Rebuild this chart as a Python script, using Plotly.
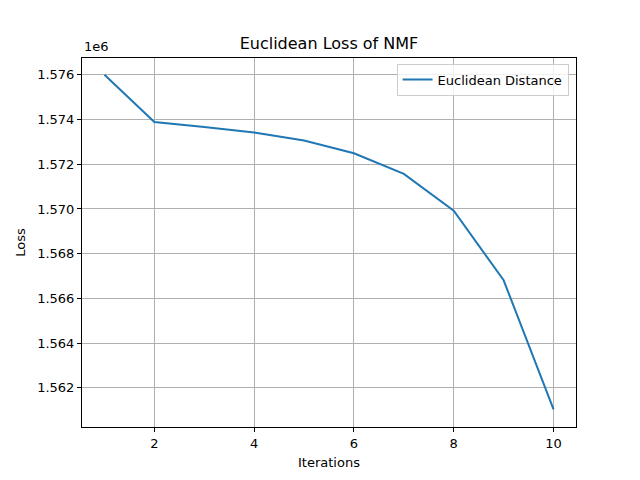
import plotly.graph_objects as go

# loss per NMF iteration
iterations = [1, 2, 3, 4, 5, 6, 7, 8, 9, 10]
loss = [1576000, 1573890, 1573660, 1573420, 1573060, 1572490,
        1571570, 1569920, 1566810, 1561040]

ytick_vals = [1562000, 1564000, 1566000, 1568000, 1570000, 1572000, 1574000, 1576000]
ytick_text = ["1.562", "1.564", "1.566", "1.568", "1.570", "1.572", "1.574", "1.576"]
xtick_vals = [2, 4, 6, 8, 10]

font = "DejaVu Sans"

fig = go.Figure()
fig.add_trace(go.Scatter(x=iterations, y=loss, mode="lines",
                         name="Euclidean Distance",
                         line=dict(color="#1f77b4", width=2)))

axis_style = dict(showline=True, linecolor="black", linewidth=1, mirror=True,
                  ticks="outside", ticklen=4, tickcolor="black",
                  showgrid=True, gridcolor="#b0b0b0", gridwidth=1,
                  zeroline=False, tickfont=dict(family=font, size=13, color="black"))

fig.update_xaxes(axis_style, range=[0.55, 10.45], tickvals=xtick_vals,
                 title=dict(text="Iterations", font=dict(family=font, size=13, color="black"),
                            standoff=8))
fig.update_yaxes(axis_style, range=[1560250, 1576750], tickvals=ytick_vals,
                 ticktext=ytick_text,
                 title=dict(text="Loss", font=dict(family=font, size=13, color="black"),
                            standoff=8))

# page body adds an 8px offset, so margins are shifted to compensate
fig.update_layout(
    width=640, height=480,
    margin=dict(l=72, r=72, t=50, b=61),
    paper_bgcolor="white", plot_bgcolor="white",
    title=dict(text="Euclidean Loss of NMF", x=0.5, xref="paper", xanchor="center",
               y=1 - 35 / 480, yanchor="middle",
               font=dict(family=font, size=16, color="black")),
    legend=dict(x=0.985, y=0.985, xanchor="right", yanchor="top",
                bgcolor="rgba(255,255,255,0.8)", bordercolor="#cccccc", borderwidth=1,
                font=dict(family=font, size=13, color="black")),
    showlegend=True,
    annotations=[dict(text="1e6", xref="paper", yref="paper", x=0, y=1,
                      xanchor="left", yanchor="bottom", yshift=2, showarrow=False,
                      font=dict(family=font, size=13, color="black"))],
)

fig.write_html("out.html")
